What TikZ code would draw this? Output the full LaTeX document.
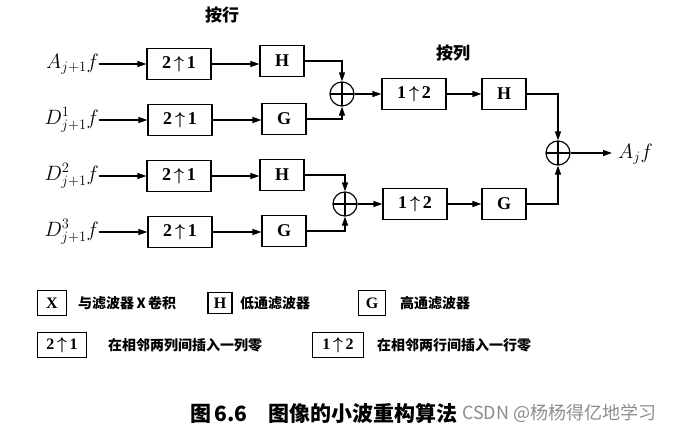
\documentclass[tikz,border=0pt]{standalone}
\usepackage{fontspec}
\setmainfont{Liberation Serif}
\newfontfamily\cjk{Noto Sans CJK SC}
\usetikzlibrary{arrows.meta,positioning}

\newcommand{\ups}[2]{\textbf{#1}\,{\boldmath$\uparrow$}\,\textbf{#2}}
\newcommand{\boxfont}{\fontsize{18}{18}\selectfont\bfseries}
\newcommand{\sigfont}{\fontsize{20}{22}\selectfont}

\tikzset{
  upbox/.style={draw, line width=1.2pt, minimum width=64pt, minimum height=31pt, inner sep=0pt, font=\boxfont},
  filt/.style={draw, line width=1.2pt, minimum width=44pt, minimum height=31pt, inner sep=0pt, font=\boxfont},
  legbox/.style={draw, line width=1.2pt, minimum height=25pt, inner sep=0pt, font=\fontsize{16}{16}\selectfont\bfseries},
  legtext/.style={anchor=west, inner sep=0pt, font=\cjk\bfseries\fontsize{14}{14}\selectfont},
  siglabel/.style={anchor=east, font=\sigfont, inner sep=0pt},
  sumnode/.style={draw, circle, line width=1.2pt, minimum size=24pt, inner sep=0pt,
    path picture={\draw[line width=1.2pt] (path picture bounding box.north) -- (path picture bounding box.south)
      (path picture bounding box.west) -- (path picture bounding box.east);}},
  sig/.style={-{Triangle[length=9pt,width=6pt]}, line width=1.2pt},
}

\begin{document}
\begin{tikzpicture}[x=1pt,y=-1pt]
  \useasboundingbox (0,0) rectangle (686,439);

  % headings
  \node[font=\cjk\bfseries\fontsize{17}{17}\selectfont] (byrow) at (222,15) {按行};
  \node[font=\cjk\bfseries\fontsize{17}{17}\selectfont] (bycol) at (453,53) {按列};

  % inputs
  \node[siglabel] (a1) at (99,64) {$A_{j+1}f$};
  \node[siglabel] (d1) at (99,120) {$D^{1}_{j+1}f$};
  \node[siglabel] (d2) at (99,176) {$D^{2}_{j+1}f$};
  \node[siglabel] (d3) at (99,232) {$D^{3}_{j+1}f$};

  % row stage
  \node[upbox] (u1) at (179,64) {\ups{2}{1}};
  \node[upbox] (u2) at (180,120) {\ups{2}{1}};
  \node[upbox] (u3) at (179,176) {\ups{2}{1}};
  \node[upbox] (u4) at (180,232) {\ups{2}{1}};
  \node[filt] (h1) at (282,61) {H};
  \node[filt] (g1) at (284,119) {G};
  \node[filt] (h2) at (282,175) {H};
  \node[filt] (g2) at (284,231) {G};
  \node[sumnode] (s1) at (342,94) {};
  \node[sumnode] (s2) at (345,204) {};

  % column stage
  \node[upbox] (c1) at (414,94) {\ups{1}{2}};
  \node[filt] (h3) at (504,94) {H};
  \node[upbox] (c2) at (415,204) {\ups{1}{2}};
  \node[filt] (g3) at (504,204) {G};
  \node[sumnode] (s3) at (558,153) {};
  \coordinate (out) at (612,153);
  \node[anchor=west, font=\sigfont, inner sep=0pt] (aj) at (618,154) {$A_{j}f$};

  % connectors
  \draw[sig] (a1) -- (u1);
  \draw[sig] (d1) -- (u2);
  \draw[sig] (d2) -- (u3);
  \draw[sig] (d3) -- (u4);
  \draw[sig] (u1.east) -- (u1.east -| h1.west);
  \draw[sig] (u2.east) -- (u2.east -| g1.west);
  \draw[sig] (u3.east) -- (u3.east -| h2.west);
  \draw[sig] (u4.east) -- (u4.east -| g2.west);
  \draw[sig] (h1.east) -| (s1.north);
  \draw[sig] (g1.east) -| (s1.south);
  \draw[sig] (h2.east) -| (s2.north);
  \draw[sig] (g2.east) -| (s2.south);
  \draw[sig] (s1) -- (c1);
  \draw[sig] (s2) -- (c2);
  \draw[sig] (c1) -- (h3);
  \draw[sig] (c2) -- (g3);
  \draw[sig] (h3.east) -| (s3.north);
  \draw[sig] (g3.east) -| (s3.south);
  \draw[sig] (s3) -- (out);

  % legend
  \node[legbox, minimum width=29pt] (lx) at (52,303) {X};
  \node[legtext] (tx) at (78,303) {与滤波器\,X\,卷积};
  \node[legbox, minimum width=24pt, minimum height=21pt] (lh) at (220,303) {H};
  \node[legtext] (th) at (240,303) {低通滤波器};
  \node[legbox, minimum width=27pt] (lg) at (372,303) {G};
  \node[legtext] (tg) at (400,303) {高通滤波器};
  \node[legbox, minimum width=49pt] (lr) at (62,345) {\ups{2}{1}};
  \node[legtext] (tr) at (108,345) {在相邻两列间插入一列零};
  \node[legbox, minimum width=51pt] (lc) at (338,345) {\ups{1}{2}};
  \node[legtext] (tc) at (377,345) {在相邻两行间插入一行零};

  % caption
  \node[anchor=west, inner sep=0pt, font=\cjk\bfseries\fontsize{21}{22}\selectfont] (cap) at (190,413) {图\,6.6\quad 图像的小波重构算法};
  \node[anchor=west, inner sep=0pt, text=black!45, font=\cjk\fontsize{18}{18}\selectfont] (wm) at (462,413) {CSDN @杨杨得亿地学习};
\end{tikzpicture}
\end{document}
